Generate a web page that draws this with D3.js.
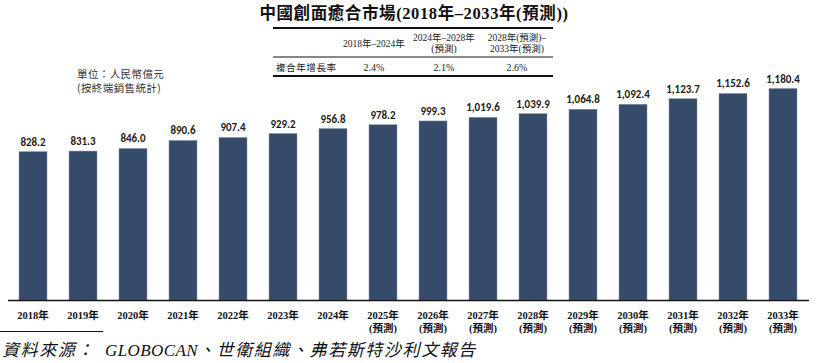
<!DOCTYPE html>
<html>
<head>
<meta charset="utf-8">
<script src="https://cdn.jsdelivr.net/npm/d3@7"></script>
<style>
  body { margin: 0; background: #fff; }
  svg { display: block; }
</style>
</head>
<body>
<div id="chart"></div>
<script>
const years = ["2018", "2019", "2020", "2021", "2022", "2023", "2024", "2025",
  "2026", "2027", "2028", "2029", "2030", "2031", "2032", "2033"];
const values = [828.2, 831.3, 846.0, 890.6, 907.4, 929.2, 956.8, 978.2,
  999.3, 1019.6, 1039.9, 1064.8, 1092.4, 1123.7, 1152.6, 1180.4];
const firstForecast = "2025";

const cagrPeriods = [
  ["2018年–2024年"],
  ["2024年–2028年", "(預測)"],
  ["2028年(預測)–", "2033年(預測)"],
];
const cagrLabel = "複合年增長率";
const cagrValues = ["2.4%", "2.1%", "2.6%"];

const title = "中國創面癒合市場(2018年–2033年(預測))";
const unitLines = ["單位：人民幣億元", "(按終端銷售統計)"];
const sourceParts = ["資料來源：", "GLOBOCAN", "、世衛組織、弗若斯特沙利文報告"];

const W = 817, H = 363;
const serif = "'Liberation Serif', 'Noto Sans CJK TC', serif";
const sans = "'Noto Sans CJK TC', 'Noto Sans', sans-serif";
const barFont = "'Carlito', 'Open Sans', 'Noto Sans', sans-serif";

const svg = d3.select("#chart").append("svg")
  .attr("width", W)
  .attr("height", H);

const x = d3.scaleBand()
  .domain(years)
  .range([8, 808])
  .paddingInner(0.44)
  .paddingOuter(0.22);

const y = d3.scaleLinear()
  .domain([0, 1200])
  .range([300, 85]);

// title
svg.append("text")
  .attr("x", 414)
  .attr("y", 19)
  .attr("text-anchor", "middle")
  .attr("font-family", serif)
  .attr("font-weight", "bold")
  .attr("font-size", 16.5)
  .attr("letter-spacing", 0.6)
  .attr("fill", "#111")
  .text(title);

// CAGR table
const table = svg.append("g");
const colX = [374, 444, 517];
table.append("line").attr("x1", 273).attr("x2", 553).attr("y1", 28).attr("y2", 28)
  .attr("stroke", "#111").attr("stroke-width", 2);
table.append("line").attr("x1", 273).attr("x2", 553).attr("y1", 57).attr("y2", 57)
  .attr("stroke", "#111").attr("stroke-width", 1);
table.append("line").attr("x1", 273).attr("x2", 553).attr("y1", 76).attr("y2", 76)
  .attr("stroke", "#111").attr("stroke-width", 2);

cagrPeriods.forEach((lines, i) => {
  const top = lines.length === 1 ? 47 : 41;
  lines.forEach((t, j) => {
    table.append("text")
      .attr("x", colX[i])
      .attr("y", top + j * 11)
      .attr("text-anchor", "middle")
      .attr("font-family", serif)
      .attr("font-size", 9.5)
      .attr("fill", "#222")
      .text(t);
  });
});

table.append("text")
  .attr("x", 276)
  .attr("y", 71)
  .attr("font-family", sans)
  .attr("font-size", 9.5)
  .attr("letter-spacing", 0.6)
  .attr("fill", "#222")
  .text(cagrLabel);

table.selectAll(".cagr")
  .data(cagrValues)
  .join("text")
  .attr("class", "cagr")
  .attr("x", (d, i) => colX[i])
  .attr("y", 71)
  .attr("text-anchor", "middle")
  .attr("font-family", serif)
  .attr("font-size", 10)
  .attr("fill", "#222")
  .text((d) => d);

// unit note
svg.selectAll(".unit")
  .data(unitLines)
  .join("text")
  .attr("class", "unit")
  .attr("x", 77)
  .attr("y", (d, i) => 78 + i * 14)
  .attr("font-family", sans)
  .attr("font-size", 10.5)
  .attr("letter-spacing", 0.4)
  .attr("fill", "#333")
  .text((d) => d);

// bars
svg.selectAll(".bar")
  .data(values)
  .join("rect")
  .attr("class", "bar")
  .attr("x", (d, i) => x(years[i]))
  .attr("y", (d) => y(d))
  .attr("width", x.bandwidth())
  .attr("height", (d) => y(0) - y(d))
  .attr("fill", "#364a6a")
  .attr("stroke", "#8a93a3")
  .attr("stroke-width", 0.5);

svg.selectAll(".val")
  .data(values)
  .join("text")
  .attr("class", "val")
  .attr("x", (d, i) => x(years[i]) + x.bandwidth() / 2)
  .attr("y", (d) => y(d) - 6)
  .attr("text-anchor", "middle")
  .attr("font-family", barFont)
  .attr("font-weight", "bold")
  .attr("font-size", 11)
  .attr("fill", "#1f1a14")
  .text((d) => d3.format(",.1f")(d));

// baseline
svg.append("line")
  .attr("x1", 8).attr("x2", 809)
  .attr("y1", y(0) + 0.5).attr("y2", y(0) + 0.5)
  .attr("stroke", "#111")
  .attr("stroke-width", 1.5);

// x labels
const forecastStart = years.indexOf(firstForecast);
const xl = svg.selectAll(".xl")
  .data(years)
  .join("text")
  .attr("class", "xl")
  .attr("x", (d) => x(d) + x.bandwidth() / 2)
  .attr("y", 319)
  .attr("text-anchor", "middle")
  .attr("font-family", serif)
  .attr("font-weight", "bold")
  .attr("font-size", 10.5)
  .attr("fill", "#111");

xl.append("tspan").text((d) => d + "年");
xl.filter((d, i) => i >= forecastStart)
  .append("tspan")
  .attr("x", (d) => x(d) + x.bandwidth() / 2)
  .attr("dy", 13)
  .text("(預測)");

// source
svg.append("line")
  .attr("x1", 0).attr("x2", 103)
  .attr("y1", 331.5).attr("y2", 331.5)
  .attr("stroke", "#111")
  .attr("stroke-width", 1);

const src = svg.append("text")
  .attr("x", 2)
  .attr("y", 356)
  .attr("font-family", serif)
  .attr("font-style", "italic")
  .attr("font-size", 17)
  .attr("fill", "#111");

src.append("tspan").attr("letter-spacing", 1.6).text(sourceParts[0]);
src.append("tspan").attr("dx", 10).attr("letter-spacing", 0.4).text(sourceParts[1]);
src.append("tspan").attr("letter-spacing", 1.6).text(sourceParts[2]);
</script>
</body>
</html>
